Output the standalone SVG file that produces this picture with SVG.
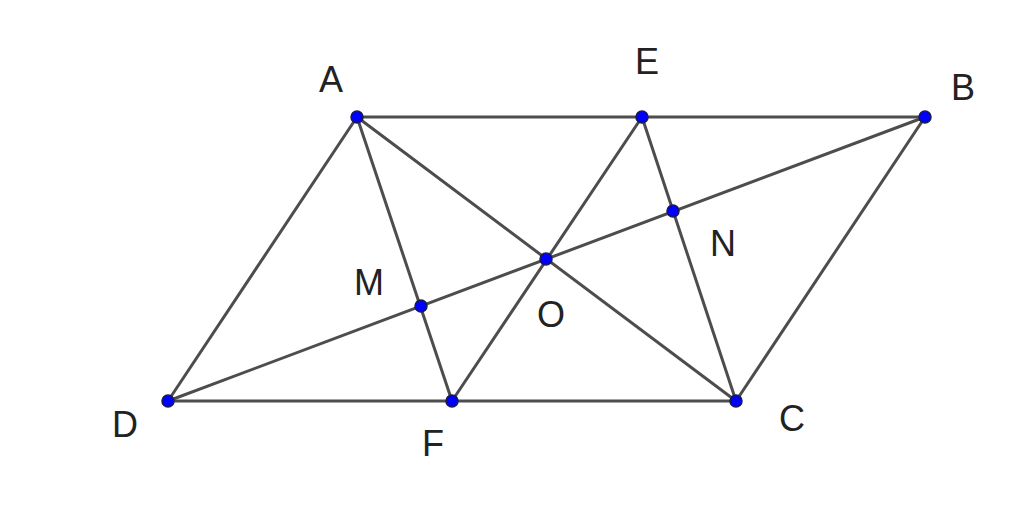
<svg xmlns="http://www.w3.org/2000/svg" width="1024" height="505" viewBox="0 0 1024 505">
<style>
.l{stroke:#4d4d4d;stroke-width:3;fill:none;stroke-linecap:round}
.p{fill:#0000ff;stroke:#1a1a4d;stroke-width:1.5}
text{font-family:"Liberation Sans",Arial,sans-serif;font-size:36px;fill:#222;text-anchor:middle}
</style>
<rect width="1024" height="505" fill="#fff"/>
<g id="connectors">
<line class="l" x1="357" y1="117" x2="925" y2="117"/>
<line class="l" x1="168" y1="401" x2="736" y2="401"/>
<line class="l" x1="357" y1="117" x2="168" y2="401"/>
<line class="l" x1="925" y1="117" x2="736" y2="401"/>
<line class="l" x1="357" y1="117" x2="736" y2="401"/>
<line class="l" x1="925" y1="117" x2="168" y2="401"/>
<line class="l" x1="357" y1="117" x2="452" y2="401"/>
<line class="l" x1="642" y1="117" x2="452" y2="401"/>
<line class="l" x1="642" y1="117" x2="736" y2="401"/>
</g>
<g id="A"><circle class="p" cx="357" cy="117" r="6"/><text x="331" y="92">A</text></g>
<g id="E"><circle class="p" cx="642" cy="117" r="6"/><text x="647" y="74">E</text></g>
<g id="B"><circle class="p" cx="925" cy="117" r="6"/><text x="963" y="100">B</text></g>
<g id="D"><circle class="p" cx="168" cy="401" r="6"/><text x="125" y="437">D</text></g>
<g id="F"><circle class="p" cx="452" cy="401" r="6"/><text x="433" y="456">F</text></g>
<g id="C"><circle class="p" cx="736" cy="401" r="6"/><text x="792" y="431">C</text></g>
<g id="O"><circle class="p" cx="546" cy="259" r="6"/><text x="551" y="327">O</text></g>
<g id="M"><circle class="p" cx="421" cy="306" r="6"/><text x="369" y="295">M</text></g>
<g id="N"><circle class="p" cx="673" cy="211" r="6"/><text x="723" y="256">N</text></g>
</svg>
